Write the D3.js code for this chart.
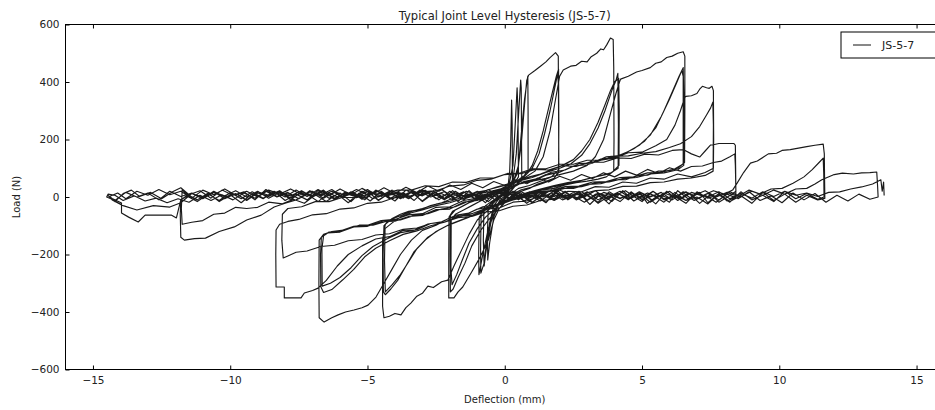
<!DOCTYPE html>
<html>
<head>
<meta charset="utf-8">
<script src="https://cdn.jsdelivr.net/npm/d3@7"></script>
<style>
  body { margin: 0; background: #fff; }
  text { font-family: "DejaVu Sans", sans-serif; }
</style>
</head>
<body>
<div id="chart"></div>
<script>
// chart text
const title = "Typical Joint Level Hysteresis (JS-5-7)";
const xLabel = "Deflection (mm)";
const yLabel = "Load (N)";
const seriesName = "JS-5-7";
const xTicks = [-15, -10, -5, 0, 5, 10, 15];
const yTicks = [-600, -400, -200, 0, 200, 400, 600];

// [deflection (mm), load (N)], in loading order
const cyclesSmall = [[0,0],[0.1,20],[0.18,90],[0.22,200],[0.25,337],[0.27,250],[0.28,60],[0.15,30],[0,12],[-0.2,-5],[-0.4,-30],[-0.55,-90],[-0.68,-170],[-0.75,-230],[-0.87,-265],[-0.88,-180],[-0.86,-60],[-0.7,-30],[-0.4,-10],[-0.1,10],[0.15,40],[0.3,110],[0.38,250],[0.45,380],[0.48,300],[0.5,70],[0.3,40],[0.05,10],[-0.2,-15],[-0.45,-60],[-0.6,-140],[-0.7,-200],[-0.75,-240],[-0.78,-150],[-0.76,-50],[-0.5,-20],[-0.2,0],[0.1,25],[0.3,60],[0.42,150],[0.5,280],[0.58,407],[0.6,380],[0.62,70],[0.4,40],[0.1,5],[-0.2,-20],[-0.4,-70],[-0.55,-160],[-0.62,-219],[-0.63,-120],[-0.6,-40],[-0.3,-10],[0,15],[0.3,50],[0.5,110],[0.62,240],[0.72,340],[0.84,421],[0.85,300],[0.85,94],[0.6,60],[0.3,30],[0,0],[-0.3,-40],[-0.6,-110],[-0.8,-200],[-0.94,-270],[-0.95,-200],[-0.93,-70],[-0.7,-40],[-0.4,-15]];

const cycles2mm = [[-0.1,10],[0.2,35],[0.45,80],[0.6,180],[0.72,320],[0.8,405],[0.87,424],[1.1,440],[1.3,455],[1.5,470],[1.65,485],[1.85,502],[1.95,490],[1.96,300],[1.97,90],[1.8,65],[1.5,55],[1.2,45],[0.9,30],[0.6,20],[0.3,5],[0,-15],[-0.2,-40],[-0.4,-80],[-0.6,-150],[-0.9,-210],[-1.2,-260],[-1.53,-313],[-1.7,-330],[-1.85,-351],[-2.04,-351],[-2.04,-200],[-2.03,-70],[-1.9,-50],[-1.6,-35],[-1.3,-20],[-1.0,-10],
  [-0.7,5],[-0.4,15],[-0.1,30],[0.2,45],[0.5,60],[0.8,80],[1.0,110],[1.2,160],[1.4,230],[1.6,310],[1.75,370],[1.88,420],[1.96,445],[1.97,250],[1.96,85],[1.75,60],[1.4,48],[1.0,35],[0.6,25],[0.3,10],[0,-20],[-0.3,-50],[-0.6,-80],[-0.9,-120],[-1.2,-170],[-1.45,-230],[-1.7,-280],[-1.88,-320],[-1.98,-330],[-1.99,-200],[-1.98,-65],[-1.8,-45],[-1.5,-30],[-1.2,-15],
  [-0.9,0],[-0.5,12],[-0.2,25],[0.1,40],[0.4,55],[0.7,70],[1.0,100],[1.25,150],[1.45,220],[1.65,300],[1.8,370],[1.93,430],[1.96,380],[1.97,95],[1.7,70],[1.3,55],[0.9,40],[0.5,30],[0.2,10],[-0.1,-15],[-0.4,-45],[-0.7,-70],[-1.0,-110],[-1.3,-160],[-1.55,-220],[-1.75,-270],[-1.92,-305],[-1.96,-250],[-1.95,-80],[-1.8,-60],[-1.5,-45]];

const cycles4mm = [[-1.2,-30],[-0.9,-15],[-0.5,5],[-0.1,25],[0.3,45],[0.7,65],[1.1,90],[1.4,140],[1.65,230],[1.85,340],[2.0,420],[2.13,442],[2.4,455],[2.6,458],[2.8,472],[3.0,470],[3.15,488],[3.35,500],[3.5,515],[3.6,512],[3.72,530],[3.85,553],[3.95,548],[3.97,450],[3.98,200],[3.97,90],[3.7,70],[3.4,62],[3.0,55],[2.6,50],[2.2,42],[1.8,30],[1.4,25],[1.0,15],[0.6,5],[0.2,-10],[-0.2,-25],[-0.6,-45],[-1.0,-80],[-1.3,-130],[-1.6,-190],[-1.85,-240],[-2.07,-289],[-2.3,-295],[-2.6,-315],[-2.8,-310],[-3.0,-335],[-3.2,-345],[-3.42,-369],[-3.6,-385],[-3.78,-410],[-4.0,-405],[-4.2,-415],[-4.4,-420],[-4.45,-380],[-4.45,-150],[-4.35,-95],[-4.1,-75],[-3.8,-60],[-3.5,-50],
  [-3.1,-45],[-2.7,-30],[-2.3,-20],[-1.9,-5],[-1.5,5],[-1.1,15],[-0.7,22],[-0.3,35],[0.1,45],[0.5,55],[0.9,70],[1.3,80],[1.7,95],[2.1,110],[2.5,130],[2.8,160],[3.1,200],[3.4,260],[3.65,320],[3.85,370],[4.0,400],[4.15,413],[4.17,300],[4.16,110],[3.9,85],[3.5,75],[3.1,65],[2.7,55],[2.3,48],[1.9,38],[1.5,30],[1.1,20],[0.7,10],[0.3,-5],[-0.1,-20],[-0.5,-35],[-0.9,-55],[-1.3,-70],[-1.7,-85],[-2.1,-100],[-2.5,-120],[-2.9,-150],[-3.3,-190],[-3.6,-240],[-3.9,-290],[-4.15,-320],[-4.35,-340],[-4.42,-330],[-4.43,-200],[-4.4,-100],[-4.2,-80],[-3.8,-65],
  [-3.4,-50],[-3.0,-40],[-2.5,-25],[-2.0,-15],[-1.5,0],[-1.0,12],[-0.5,28],[0,40],[0.5,55],[1.0,68],[1.5,85],[2.0,100],[2.4,115],[2.8,145],[3.1,185],[3.4,240],[3.65,300],[3.9,370],[4.05,405],[4.12,430],[4.14,250],[4.13,100],[3.8,80],[3.3,70],[2.8,58],[2.3,50],[1.8,40],[1.3,28],[0.8,15],[0.4,0],[0,-15],[-0.4,-30],[-0.8,-50],[-1.2,-65],[-1.6,-80],[-2.0,-95],[-2.4,-115],[-2.8,-140],[-3.2,-180],[-3.5,-225],[-3.8,-270],[-4.1,-305],[-4.35,-330],[-4.38,-220],[-4.36,-110],[-4.1,-90]];

const cycles6mm = [[-3.8,-70],[-3.4,-55],[-3.0,-45],[-2.5,-30],[-2.0,-20],[-1.5,-5],[-1.0,10],[-0.5,20],[0,32],[0.5,45],[1.0,55],[1.5,65],[2.0,78],[2.5,90],[3.0,110],[3.3,140],[3.6,200],[3.85,290],[4.05,360],[4.18,400],[4.22,410],[4.5,420],[4.8,435],[5.0,440],[5.3,450],[5.5,465],[5.7,470],[5.9,485],[6.1,490],[6.3,500],[6.5,505],[6.56,490],[6.56,300],[6.55,120],[6.3,100],[6.0,92],[5.6,90],[5.2,76],[4.8,74],[4.4,60],[4.0,60],[3.5,46],[3.0,44],[2.5,30],[2.0,30],[1.5,16],[1.0,12],[0.5,-4],[0,-12],[-0.5,-34],[-1.0,-42],[-1.5,-64],[-2.0,-72],[-2.5,-98],[-3.0,-116],[-3.4,-150],[-3.8,-200],[-4.1,-250],[-4.4,-300],[-4.69,-348],[-4.98,-376],[-5.2,-385],[-5.49,-393],[-5.8,-400],[-6.07,-410],[-6.3,-420],[-6.58,-435],[-6.76,-420],[-6.77,-300],[-6.76,-150],[-6.6,-130],[-6.3,-120],
  [-5.8,-114],[-5.3,-98],[-4.8,-98],[-4.3,-84],[-3.8,-80],[-3.3,-64],[-2.8,-58],[-2.3,-42],[-1.8,-34],[-1.3,-14],[-0.8,-4],[-0.3,16],[0.2,28],[0.7,54],[1.2,64],[1.7,86],[2.2,94],[2.7,116],[3.2,118],[3.7,140],[4.2,144],[4.7,168],[5.1,195],[5.5,240],[5.8,300],[6.1,365],[6.35,420],[6.5,450],[6.53,300],[6.52,110],[6.3,95],[5.8,84],[5.3,80],[4.8,68],[4.3,64],[3.8,52],[3.3,49],[2.8,36],[2.3,32],[1.8,21],[1.3,16],[0.8,1],[0.3,-10],[-0.2,-28],[-0.7,-40],[-1.2,-58],[-1.7,-70],[-2.2,-88],[-2.7,-100],[-3.2,-118],[-3.7,-130],[-4.2,-152],[-4.7,-178],[-5.1,-208],[-5.5,-252],[-5.9,-288],[-6.3,-322],[-6.6,-332],[-6.7,-312],[-6.71,-200],[-6.68,-140],[-6.45,-125],
  [-6.0,-122],[-5.5,-104],[-5.0,-102],[-4.5,-86],[-4.0,-84],[-3.5,-68],[-3.0,-64],[-2.5,-44],[-2.0,-42],[-1.5,-18],[-1.0,-12],[-0.5,12],[0,18],[0.5,46],[1.0,54],[1.5,76],[2.0,86],[2.5,108],[3.0,112],[3.5,132],[4.0,138],[4.5,158],[4.9,180],[5.3,215],[5.7,280],[6.0,340],[6.25,395],[6.45,440],[6.5,420],[6.5,115],[6.2,98],[5.7,86],[5.2,84],[4.7,70],[4.2,68],[3.7,54],[3.2,52],[2.7,38],[2.2,36],[1.7,22],[1.2,18],[0.7,2],[0.2,-4],[-0.3,-26],[-0.8,-34],[-1.3,-56],[-1.8,-64],[-2.3,-86],[-2.8,-94],[-3.3,-116],[-3.8,-124],[-4.3,-146],[-4.8,-172],[-5.2,-204],[-5.6,-246],[-6.0,-280],[-6.35,-300],[-6.65,-310],[-6.66,-180],[-6.6,-135],[-6.4,-122]];

const cycles8mm = [[-6,-118],[-5.5,-102],[-5,-98],[-4.5,-82],[-4,-78],[-3.5,-62],[-3,-58],[-2.5,-36],[-2,-34],[-1.5,-12],[-1,-4],[-0.5,18],[0,26],[0.5,48],[1,56],[1.5,78],[2,86],[2.5,108],[3,112],[3.5,128],[4,136],[4.5,154],[5,156],[5.5,178],[5.9,200],[6.2,250],[6.4,300],[6.55,345],[6.6,350],[6.8,352],[7.0,360],[7.1,375],[7.2,385],[7.35,380],[7.45,378],[7.55,385],[7.6,370],[7.61,200],[7.6,100],[7.3,85],[6.8,70],[6.3,80],[5.8,62],[5.3,66],[4.8,48],[4.3,52],[3.8,34],[3.3,36],[2.8,18],[2.3,20],[1.8,2],[1.3,4],[0.8,-14],[0.3,-18],[-0.2,-38],[-0.7,-42],[-1.2,-64],[-1.7,-66],[-2.2,-88],[-2.7,-92],[-3.2,-114],[-3.7,-116],[-4.2,-138],[-4.7,-146],[-5.2,-170],[-5.7,-200],[-6.1,-240],[-6.5,-290],[-6.8,-317],[-7.0,-325],[-7.3,-334],[-7.42,-351],[-7.7,-351],[-8.03,-351],[-8.03,-313],[-8.33,-313],[-8.34,-200],[-8.33,-115],[-8.2,-95],[-7.9,-85],
  [-7.5,-78],[-7,-62],[-6.5,-58],[-6,-42],[-5.5,-38],[-5,-22],[-4.5,-18],[-4,-2],[-3.5,2],[-3,18],[-2.5,22],[-2,38],[-1.5,42],[-1,58],[-0.5,62],[0,78],[0.5,82],[1,98],[1.5,98],[2,114],[2.5,114],[3,128],[3.5,128],[4,142],[4.5,143],[5,152],[5.5,158],[6,172],[6.4,185],[6.8,210],[7.1,245],[7.35,285],[7.5,310],[7.58,330],[7.6,250],[7.59,90],[7.3,75],[6.8,66],[6.3,62],[5.8,52],[5.3,50],[4.8,38],[4.3,37],[3.8,25],[3.3,22],[2.8,9],[2.3,7],[1.8,-8],[1.3,-12],[0.8,-28],[0.3,-32],[-0.2,-48],[-0.7,-52],[-1.2,-68],[-1.7,-72],[-2.2,-88],[-2.7,-92],[-3.2,-108],[-3.7,-112],[-4.2,-128],[-4.7,-132],[-5.2,-148],[-5.7,-152],[-6.2,-168],[-6.7,-172],[-7.2,-188],[-7.6,-192],[-7.9,-205],[-8.07,-212],[-8.12,-150],[-8.1,-60],[-7.9,-40]];

const cycles12mm = [[-7.4,-34],[-6.9,-16],[-6.4,-16],[-5.9,-1],[-5.4,-2],[-4.9,12],[-4.4,11],[-3.9,24],[-3.4,24],[-2.9,39],[-2.4,36],[-1.9,52],[-1.4,51],[-0.9,66],[-0.4,66],[0.1,82],[0.6,81],[1.1,96],[1.6,94],[2.1,109],[2.6,106],[3.1,122],[3.6,121],[4.1,136],[4.6,134],[5.1,149],[5.6,146],[6.1,162],[6.5,165],[6.8,150],[7.1,139],[7.3,160],[7.5,181],[7.56,181],[7.8,186],[8.1,186],[8.35,186],[8.4,180],[8.41,100],[8.42,0],
  [8.1,-14],[7.8,12],[7.4,-20],[7.1,16],[6.7,-8],[6.3,22],[6.0,-18],[5.6,6],[5.2,-22],[4.9,18],[4.5,-10],[4.1,14],[3.8,-24],[3.4,10],[3.0,-12],[2.7,20],[2.3,-8],[1.9,16],[1.5,-18],[1.2,6],[0.8,-22],[0.4,8],[0,-16],[-0.4,14],[-0.7,-20],[-1.1,12],[-1.5,-10],[-1.9,22],[-2.2,-6],[-2.6,18],[-3.0,-14],[-3.4,16],[-3.7,-4],[-4.1,24],[-4.5,2],[-4.9,20],[-5.2,-8],[-5.6,18],[-6.0,-4],[-6.4,14],[-6.8,-16],[-7.2,10],[-7.6,-10],[-8.0,-22],[-8.4,-35],[-8.87,-63],[-9.4,-80],[-9.85,-104],[-10.4,-120],[-10.9,-143],[-11.3,-145],[-11.67,-150],[-11.8,-140],[-11.82,-60],[-11.8,-10],
  [-11.6,4],[-11.2,-16],[-10.8,10],[-10.4,-12],[-10.0,16],[-9.6,-6],[-9.2,18],[-8.8,-4],[-8.4,20],[-8.0,0],[-7.6,24],[-7.2,2],[-6.8,26],[-6.4,4],[-6.0,28],[-5.6,8],[-5.2,30],[-4.8,10],[-4.4,32],[-4.0,12],[-3.6,34],[-3.2,16],[-2.8,38],[-2.4,20],[-2.0,42],[-1.6,26],[-1.2,48],[-0.8,32],[-0.4,54],[0,40],[0.4,60],[0.8,46],[1.2,66],[1.6,52],[2.0,72],[2.4,58],[2.8,78],[3.2,64],[3.6,84],[4.0,70],[4.4,90],[4.8,76],[5.2,96],[5.6,82],[6.0,102],[6.4,90],[6.8,106],[7.2,108],[7.6,120],[7.9,125],[8.2,140],[8.38,150],[8.4,110],[8.42,20],[8.2,5],
  [7.8,-18],[7.5,10],[7.1,-22],[6.7,14],[6.3,-12],[5.9,20],[5.5,-24],[5.1,8],[4.7,-14],[4.3,22],[3.9,-16],[3.5,12],[3.1,-26],[2.7,14],[2.3,-10],[1.9,24],[1.5,-20],[1.1,6],[0.7,-14],[0.3,20],[-0.1,-18],[-0.5,14],[-0.9,-12],[-1.3,22],[-1.7,-16],[-2.1,10],[-2.5,-6],[-2.9,24],[-3.3,-12],[-3.7,16],[-4.1,-8],[-4.5,20],[-4.9,-14],[-5.3,14],[-5.7,-20],[-6.1,10],[-6.5,-16],[-6.9,8],[-7.3,-22],[-7.7,-8],[-8.1,-24],[-8.6,-18],[-9.0,-36],[-9.4,-40],[-9.8,-36],[-10.2,-56],[-10.6,-60],[-11.0,-82],[-11.4,-88],[-11.75,-95],[-11.78,-40],[-11.75,25],[-11.6,10]];

const cycles14mm = [[-11.2,-10],[-10.8,14],[-10.4,-16],[-10.0,8],[-9.6,-20],[-9.2,12],[-8.8,-6],[-8.4,20],[-8.0,-12],[-7.6,10],[-7.2,-10],[-6.8,22],[-6.4,-4],[-6.0,14],[-5.6,-16],[-5.2,20],[-4.8,-6],[-4.4,10],[-4.0,-14],[-3.6,24],[-3.2,4],[-2.8,16],[-2.4,-10],[-2.0,20],[-1.6,-4],[-1.2,14],[-0.8,-8],[-0.4,22],[0,6],[0.4,18],[0.8,-4],[1.2,16],[1.6,0],[2.0,24],[2.4,6],[2.8,18],[3.2,-8],[3.6,16],[4.0,4],[4.4,22],[4.8,-4],[5.2,14],[5.6,0],[6.0,20],[6.4,-8],[6.8,16],[7.2,4],[7.6,22],[8.0,10],[8.3,24],[8.47,49],[8.7,85],[8.95,118],[9.2,125],[9.6,150],[9.9,152],[10.1,162],[10.4,165],[10.7,170],[11.0,175],[11.3,180],[11.6,184],[11.64,150],[11.65,60],[11.66,-5],[11.4,-10],
  [11.0,6],[10.6,-18],[10.2,10],[9.8,-12],[9.4,16],[9.0,-22],[8.6,4],[8.2,-16],[7.8,12],[7.4,-24],[7.0,0],[6.6,-12],[6.2,16],[5.8,-18],[5.4,6],[5.0,-10],[4.6,18],[4.2,-16],[3.8,4],[3.4,-22],[3.0,10],[2.6,-6],[2.2,16],[1.8,-12],[1.4,6],[1.0,-18],[0.6,12],[0.2,-10],[-0.2,16],[-0.6,-6],[-1.0,20],[-1.4,0],[-1.8,14],[-2.2,-10],[-2.6,22],[-3.0,4],[-3.4,16],[-3.8,-6],[-4.2,20],[-4.6,0],[-5.0,26],[-5.4,6],[-5.8,16],[-6.2,-4],[-6.6,20],[-7.0,0],[-7.4,22],[-7.8,4],[-8.2,16],[-8.6,-4],[-9.0,20],[-9.4,0],[-9.8,22],[-10.2,4],[-10.6,16],[-11.0,-6],[-11.4,12],[-11.8,-10],[-11.96,-73],[-12.15,-63],[-13.1,-63],[-13.35,-87],[-13.7,-70],[-13.96,-56],[-13.96,-21],[-14.3,-5],[-14.45,5],
  [-14.2,-16],[-13.9,12],[-13.6,24],[-13.3,2],[-12.9,16],[-12.5,-6],[-12.1,18],[-11.8,32],[-11.5,8],[-11.1,22],[-10.7,-4],[-10.3,24],[-9.9,6],[-9.5,18],[-9.1,-10],[-8.7,26],[-8.3,2],[-7.9,16],[-7.5,-6],[-7.1,22],[-6.7,8],[-6.3,26],[-5.9,0],[-5.5,16],[-5.1,-10],[-4.7,24],[-4.3,6],[-3.9,18],[-3.5,-4],[-3.1,24],[-2.7,8],[-2.3,26],[-1.9,2],[-1.5,18],[-1.1,-6],[-0.7,22],[-0.3,0],[0.1,16],[0.5,-10],[0.9,18],[1.3,2],[1.7,24],[2.1,-4],[2.5,16],[2.9,0],[3.3,22],[3.7,-6],[4.1,12],[4.5,-4],[4.9,18],[5.3,0],[5.7,16],[6.1,-10],[6.5,18],[6.9,6],[7.3,22],[7.7,0],[8.1,16],[8.5,2],[8.9,24],[9.3,10],[9.7,28],[10.1,30],[10.5,48],[10.9,70],[11.2,95],[11.45,120],[11.6,135],[11.62,80],[11.63,0],[11.4,-8],
  [11.0,12],[10.6,-6],[10.2,20],[9.8,-16],[9.4,6],[9.0,-10],[8.6,18],[8.2,-18],[7.8,8],[7.4,-4],[7.0,18],[6.6,-22],[6.2,2],[5.8,-6],[5.4,20],[5.0,-16],[4.6,8],[4.2,-4],[3.8,18],[3.4,-18],[3.0,6],[2.6,-10],[2.2,20],[1.8,-6],[1.4,12],[1.0,-20],[0.6,6],[0.2,-12],[-0.2,18],[-0.6,-16],[-1.0,8],[-1.4,-4],[-1.8,20],[-2.2,-10],[-2.6,12],[-3.0,-16],[-3.4,18],[-3.8,-4],[-4.2,14],[-4.6,-12],[-5.0,20],[-5.4,2],[-5.8,18],[-6.2,-10],[-6.6,24],[-7.0,6],[-7.4,18],[-7.8,-10],[-8.2,20],[-8.6,2],[-9.0,14],[-9.4,-12],[-9.8,12],[-10.2,-6],[-10.6,18],[-11.0,0],[-11.4,12],[-11.8,-20],[-12.2,-35],[-12.8,-30],[-13.4,-45],[-13.9,-30],[-14.3,-10],[-14.4,2]];

const cycles16mm = [[-14.1,14],[-13.8,-6],[-13.4,20],[-13.0,6],[-12.6,26],[-12.2,8],[-11.8,20],[-11.4,-4],[-11.0,24],[-10.6,8],[-10.2,28],[-9.8,6],[-9.4,20],[-9.0,0],[-8.6,24],[-8.2,10],[-7.8,28],[-7.4,8],[-7.0,20],[-6.6,-4],[-6.2,18],[-5.8,6],[-5.4,26],[-5.0,8],[-4.6,20],[-4.2,-6],[-3.8,14],[-3.4,2],[-3.0,24],[-2.6,6],[-2.2,18],[-1.8,-4],[-1.4,20],[-1.0,8],[-0.6,26],[-0.2,2],[0.2,18],[0.6,-6],[1.0,14],[1.4,0],[1.8,20],[2.2,-4],[2.6,12],[3.0,-10],[3.4,14],[3.8,2],[4.2,20],[4.6,-4],[5.0,12],[5.4,-12],[5.8,14],[6.2,0],[6.6,18],[7.0,-6],[7.4,12],[7.8,-10],[8.2,18],[8.6,2],[9.0,20],[9.4,6],[9.8,24],[10.2,10],[10.6,28],[11.0,30],[11.3,45],[11.55,60],[11.7,66],[12.0,78],[12.3,83],[12.7,80],[13.0,84],[13.3,85],[13.55,87],[13.58,40],[13.6,0],[13.3,-8],
  [12.9,10],[12.5,-14],[12.1,6],[11.7,-18],[11.3,12],[10.9,-10],[10.5,14],[10.1,-20],[9.7,4],[9.3,-12],[8.9,18],[8.5,-6],[8.1,10],[7.7,-18],[7.3,6],[6.9,-12],[6.5,14],[6.1,-10],[5.7,6],[5.3,-18],[4.9,12],[4.5,-6],[4.1,14],[3.7,-12],[3.3,10],[2.9,-18],[2.5,4],[2.1,-10],[1.7,14],[1.3,-14],[0.9,6],[0.5,-6],[0.1,18],[-0.3,-12],[-0.7,10],[-1.1,-4],[-1.5,18],[-1.9,-10],[-2.3,12],[-2.7,0],[-3.1,20],[-3.5,-6],[-3.9,14],[-4.3,4],[-4.7,22],[-5.1,-4],[-5.5,14],[-5.9,0],[-6.3,20],[-6.7,4],[-7.1,18],[-7.5,-6],[-7.9,14],[-8.3,0],[-8.7,20],[-9.1,-4],[-9.5,14],[-9.9,-10],[-10.3,8],[-10.7,-12],[-11.1,6],[-11.5,-18],[-11.9,-6],[-12.3,-20],[-12.7,-4],[-13.1,-14],[-13.5,4],[-13.9,-12],[-14.2,6],[-14.45,10],[-14.5,0],
  [-14.2,-12],[-13.8,16],[-13.4,0],[-13.0,14],[-12.6,-10],[-12.2,20],[-11.8,2],[-11.4,14],[-11.0,-6],[-10.6,20],[-10.2,0],[-9.8,12],[-9.4,-10],[-9.0,18],[-8.6,6],[-8.2,22],[-7.8,-4],[-7.4,14],[-7.0,2],[-6.6,20],[-6.2,-6],[-5.8,12],[-5.4,0],[-5.0,18],[-4.6,-10],[-4.2,14],[-3.8,0],[-3.4,20],[-3.0,6],[-2.6,22],[-2.2,-4],[-1.8,14],[-1.4,2],[-1.0,20],[-0.6,-6],[-0.2,12],[0.2,-4],[0.6,18],[1.0,0],[1.4,14],[1.8,-12],[2.2,8],[2.6,-4],[3.0,18],[3.4,-10],[3.8,12],[4.2,-6],[4.6,14],[5.0,-4],[5.4,20],[5.8,-10],[6.2,8],[6.6,-12],[7.0,14],[7.4,0],[7.8,18],[8.2,-6],[8.6,12],[9.0,-4],[9.4,18],[9.8,2],[10.2,20],[10.6,6],[11.0,14],[11.4,2],[11.8,16],[12.2,18],[12.6,28],[13.0,35],[13.4,45],[13.7,60],[13.75,20],[13.8,52],[13.82,5]];

const hysteresis = [].concat(cyclesSmall, cycles2mm, cycles4mm, cycles6mm, cycles8mm, cycles12mm, cycles14mm, cycles16mm);

// layout (matches the cropped matplotlib figure)
const W = 935, H = 410;
const plotL = 65.5, plotR = 944, plotT = 24.5, plotB = 369.5;

const svg = d3.select("#chart")
  .append("svg")
    .attr("width", W)
    .attr("height", H);

const x = d3.scaleLinear().domain([-16, 16]).range([plotL, plotR]);
const y = d3.scaleLinear().domain([-600, 600]).range([plotB, plotT]);

svg.append("clipPath").attr("id", "plotclip")
  .append("rect")
    .attr("x", plotL).attr("y", plotT)
    .attr("width", plotR - plotL).attr("height", plotB - plotT);

// the series
const line = d3.line()
  .x(d => x(d[0]))
  .y(d => y(d[1]));

svg.append("path")
  .datum(hysteresis)
  .attr("clip-path", "url(#plotclip)")
  .attr("d", line)
  .style("fill", "none")
  .style("stroke", "#1a1a1a")
  .style("stroke-width", 1.15)
  .style("stroke-linejoin", "round");

// axes, ticks pointing inwards
const fmt = d3.format("");
function styleAxis(g) {
  g.select(".domain").remove();
  g.selectAll(".tick line").attr("stroke", "#000");
  g.selectAll("text")
    .style("font-size", "10.5px")
    .attr("fill", "#222");
}

svg.append("g")
  .attr("transform", "translate(0," + plotB + ")")
  .call(d3.axisBottom(x).tickValues(xTicks).tickSize(-4).tickPadding(7).tickFormat(fmt))
  .call(styleAxis);

svg.append("g")
  .attr("transform", "translate(0," + plotT + ")")
  .call(d3.axisTop(x).tickValues(xTicks).tickSize(-4).tickFormat(""))
  .call(styleAxis);

svg.append("g")
  .attr("transform", "translate(" + plotL + ",0)")
  .call(d3.axisLeft(y).tickValues(yTicks).tickSize(-4).tickPadding(6).tickFormat(fmt))
  .call(styleAxis);

svg.append("g")
  .attr("transform", "translate(" + plotR + ",0)")
  .call(d3.axisRight(y).tickValues(yTicks).tickSize(-4).tickFormat(""))
  .call(styleAxis);

// frame
svg.append("rect")
  .attr("x", plotL).attr("y", plotT)
  .attr("width", plotR - plotL).attr("height", plotB - plotT)
  .style("fill", "none")
  .style("stroke", "#000")
  .style("stroke-width", 1);

// title and labels
svg.append("text")
  .attr("x", (plotL + plotR) / 2)
  .attr("y", 20)
  .attr("text-anchor", "middle")
  .style("font-size", "11.5px")
  .attr("fill", "#222")
  .text(title);

svg.append("text")
  .attr("x", (plotL + plotR) / 2)
  .attr("y", 403)
  .attr("text-anchor", "middle")
  .style("font-size", "10px")
  .attr("fill", "#222")
  .text(xLabel);

svg.append("text")
  .attr("transform", "translate(20," + ((plotT + plotB) / 2) + ") rotate(-90)")
  .attr("text-anchor", "middle")
  .style("font-size", "10px")
  .attr("fill", "#222")
  .text(yLabel);

// legend (cut by the right edge, as in the picture)
const legend = svg.append("g").attr("transform", "translate(841,32)");
legend.append("rect")
  .attr("width", 96).attr("height", 26)
  .style("fill", "#fff")
  .style("stroke", "#000")
  .style("stroke-width", 1);
legend.append("line")
  .attr("x1", 12).attr("x2", 30)
  .attr("y1", 13).attr("y2", 13)
  .style("stroke", "#111")
  .style("stroke-width", 1);
legend.append("text")
  .attr("x", 41).attr("y", 17)
  .style("font-size", "11px")
  .attr("fill", "#222")
  .text(seriesName);
</script>
</body>
</html>
